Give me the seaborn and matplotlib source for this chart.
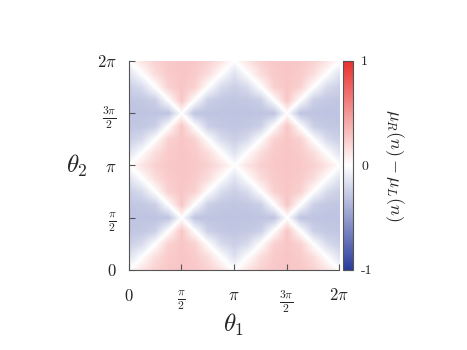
import numpy as np
import matplotlib
matplotlib.use("Agg")
import matplotlib.pyplot as plt
import seaborn as sns
from matplotlib.colors import LinearSegmentedColormap


# Values of mu_R(n) - mu_L(n) on a pi/8 grid,
# one period tile: rows theta2 = 0..pi, columns theta1 = 0..pi
tile = np.array([
    [ 0.00,  0.13,  0.22,  0.26,  0.27,  0.26,  0.22,  0.13,  0.00],
    [-0.15,  0.00,  0.16,  0.25,  0.27,  0.25,  0.16,  0.00, -0.15],
    [-0.24, -0.18,  0.00,  0.22,  0.27,  0.22,  0.00, -0.18, -0.24],
    [-0.29, -0.28, -0.24,  0.00,  0.27,  0.00, -0.24, -0.28, -0.29],
    [-0.30, -0.30, -0.30, -0.30,  0.00, -0.30, -0.30, -0.30, -0.30],
    [-0.29, -0.28, -0.24,  0.00,  0.27,  0.00, -0.24, -0.28, -0.29],
    [-0.24, -0.18,  0.00,  0.22,  0.27,  0.22,  0.00, -0.18, -0.24],
    [-0.15,  0.00,  0.16,  0.25,  0.27,  0.25,  0.16,  0.00, -0.15],
    [ 0.00,  0.13,  0.22,  0.26,  0.27,  0.26,  0.22,  0.13,  0.00],
])

tick_pos = [0, np.pi / 2, np.pi, 3 * np.pi / 2, 2 * np.pi]
tick_labels = [r"$0$", r"$\frac{\pi}{2}$", r"$\pi$", r"$\frac{3\pi}{2}$", r"$2\pi$"]
cbar_ticks = [-1, 0, 1]
cbar_labels = ["-1", "0", "1"]

# repeat the tile over 0..2pi in both directions
core = tile[:-1, :-1]
field = np.tile(core, (2, 2))
field = np.vstack([field, field[:1]])
field = np.hstack([field, field[:, :1]])


sns.set_style("ticks")
plt.rcParams["font.family"] = ["serif"]
plt.rcParams["font.serif"] = ["cmr10", "DejaVu Serif"]
plt.rcParams["mathtext.fontset"] = "cm"
plt.rcParams["axes.formatter.use_mathtext"] = True

cmap = LinearSegmentedColormap.from_list(
    "bwr_gp", ["#2a3c9c", "#ffffff", "#e8302e"]
)

fig = plt.figure(figsize=(4.67, 3.5), dpi=100)
ax = fig.add_axes([0.276, 0.229, 0.45, 0.597])

h = np.pi / 16
im = ax.imshow(
    field,
    cmap=cmap,
    vmin=-1,
    vmax=1,
    origin="lower",
    extent=[-h, 2 * np.pi + h, -h, 2 * np.pi + h],
    interpolation="bilinear",
    aspect="auto",
)
ax.set_xlim(0, 2 * np.pi)
ax.set_ylim(0, 2 * np.pi)

ax.set_xticks(tick_pos)
ax.set_xticklabels(tick_labels, fontsize=12)
ax.set_yticks(tick_pos)
ax.set_yticklabels(tick_labels, fontsize=12)
ax.tick_params(direction="in", length=4, width=0.8, color="#555555", pad=9)
ax.tick_params(axis="x", pad=13)

for side in ["top", "right"]:
    ax.spines[side].set_visible(False)
for side in ["left", "bottom"]:
    ax.spines[side].set_color("#555555")
    ax.spines[side].set_linewidth(0.8)

ax.set_xlabel(r"$\theta_1$", fontsize=18, labelpad=-2)
ax.set_ylabel(r"$\theta_2$", fontsize=18, rotation=0, labelpad=14, va="center")

# Colorbar
cax = fig.add_axes([0.734, 0.229, 0.0214, 0.597])
cb = fig.colorbar(im, cax=cax, ticks=cbar_ticks)
cb.ax.set_yticklabels(cbar_labels, fontsize=10)
cb.ax.tick_params(direction="in", length=3, width=0.8, color="#555555",
                  left=True, right=True, pad=6)
cb.outline.set_edgecolor("#555555")
cb.outline.set_linewidth(0.8)
cb.set_label(r"$\mu_R(n) - \mu_L(n)$", rotation=-90, fontsize=13, labelpad=24)

fig.savefig("out.png", dpi=100)
